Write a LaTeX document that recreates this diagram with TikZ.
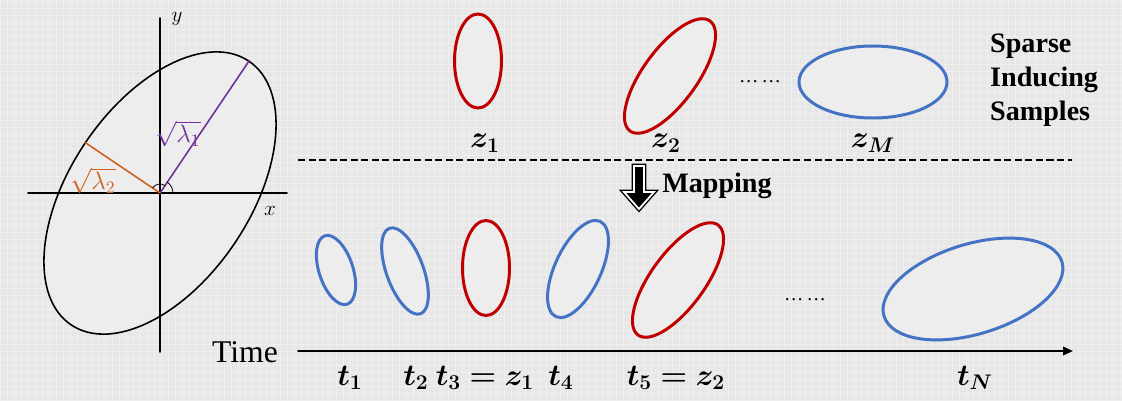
\documentclass[tikz,border=0pt]{standalone}
\usepackage{amsmath,amssymb,bm}
\usepackage{fontspec}
\setmainfont{Liberation Serif}
\usetikzlibrary{arrows.meta,shapes.geometric,calc}
\definecolor{bgcol}{RGB}{231,231,231}
\definecolor{gridcol}{RGB}{239,239,239}
\definecolor{blobfill}{RGB}{237,237,237}
\definecolor{zred}{RGB}{192,0,0}
\definecolor{zblue}{RGB}{68,114,196}
\definecolor{lampurple}{RGB}{112,48,160}
\definecolor{lamorange}{RGB}{204,96,28}

\begin{document}
\begin{tikzpicture}[x=0.02cm,y=0.02cm,>={Triangle[length=2mm,width=1.7mm]},line cap=round,
  wh/.style 2 args={minimum width=#1*0.02cm,minimum height=#2*0.02cm},
  blob/.style={ellipse,draw,fill=blobfill,line width=1.7pt,inner sep=0pt},
  redblob/.style={blob,draw=zred},
  blueblob/.style={blob,draw=zblue},
  zlab/.style={font=\fontsize{17}{19}\selectfont},
  axlab/.style={font=\fontsize{12}{14}\selectfont},
  lamlab/.style={font=\fontsize{14}{16}\selectfont},
  dotlab/.style={font=\fontsize{11}{13}\selectfont}]
\useasboundingbox (0,0) rectangle (1122,400);
\fill[bgcol] (0,0) rectangle (1122,400);
\draw[gridcol,line width=0.4pt,step=7] (0,0) grid (1122,400);
\node[ellipse,draw,fill=blobfill,line width=0.9pt,inner sep=0pt,wh={318}{180},rotate=56] (cov) at (160,207) {};
\coordinate (xl) at (28,207);
\coordinate (xr) at (287,207);
\coordinate (yb) at (160,48);
\coordinate (yt) at (160,382);
\draw[line width=0.9pt] (xl) -- (xr);
\draw[line width=0.9pt] (yb) -- (yt);
\node[axlab] (xlab) at (270,189) {$x$};
\node[axlab] (ylab) at (177,381) {$y$};
\draw[lampurple,line width=0.9pt] (cov.center) -- (cov.east);
\draw[lamorange,line width=0.9pt] (cov.center) -- (cov.north);
\draw[line width=0.45pt] ($(cov.center)+(13,0)$) arc[start angle=0,end angle=56,radius=13];
\draw[line width=0.45pt] ($(cov.center)+(56:9)$) arc[start angle=56,end angle=146,radius=9];
\node[lamlab,lampurple] (lam1) at (178,266) {$\sqrt{\lambda_1}$};
\node[lamlab,lamorange] (lam2) at (93,219) {$\sqrt{\lambda_2}$};
\node[redblob,wh={47}{94}] (z1) at (478,339) {};
\node[redblob,wh={136}{54},rotate=54] (z2) at (670,324) {};
\node[dotlab] (dotsz) at (760,318) {\dots\,\dots};
\node[blueblob,wh={148}{72}] (zM) at (873,318) {};
\node[zlab] (z1lab) at (485,257) {$\bm{z}_{\bm{1}}$};
\node[zlab] (z2lab) at (666,257) {$\bm{z}_{\bm{2}}$};
\node[zlab] (zMlab) at (873,257) {$\bm{z}_{\bm{M}}$};
\node[anchor=west,align=left,font=\bfseries\fontsize{16}{19.5}\selectfont] (sis) at (984,320) {Sparse\\Inducing\\Samples};
\coordinate (dl) at (298,240);
\coordinate (dr) at (1072,240);
\draw[line width=1.1pt,dash pattern=on 4pt off 2pt,line cap=butt] (dl) -- (dr);
\draw[line width=2.6pt,line join=miter,line cap=butt] (634,234) -- (644,234) -- (644,208) -- (654,208) -- (639,191) -- (624,208) -- (634,208) -- cycle;
\draw[white,fill=black,line width=1pt,line join=miter,line cap=butt] (634,234) -- (644,234) -- (644,208) -- (654,208) -- (639,191) -- (624,208) -- (634,208) -- cycle;
\node[font=\bfseries\fontsize{16}{18}\selectfont] (map) at (717,214) {Mapping};
\node[blueblob,wh={72}{34},rotate=108] (t1) at (336,130) {};
\node[blueblob,wh={91}{37},rotate=110] (t2) at (405,129) {};
\node[redblob,wh={47}{95}] (t3) at (486,132) {};
\node[blueblob,wh={105}{46},rotate=65] (t4) at (578,131) {};
\node[redblob,wh={136}{54},rotate=54] (t5) at (678,120) {};
\node[dotlab] (dotst) at (805,100) {\dots\,\dots};
\node[blueblob,wh={186}{90},rotate=17] (tN) at (973,111) {};
\coordinate (ta) at (298,49);
\coordinate (tb) at (1073,49);
\draw[->,line width=1.1pt] (ta) -- (tb);
\node[font=\fontsize{18}{20}\selectfont] (time) at (245,48) {Time};
\node[zlab] (t1lab) at (350,22) {$\bm{t}_{\bm{1}}$};
\node[zlab] (t2lab) at (416,22) {$\bm{t}_{\bm{2}}$};
\node[zlab] (t3lab) at (485,22) {$\bm{t}_{\bm{3}}\bm{=}\bm{z}_{\bm{1}}$};
\node[zlab] (t4lab) at (561,22) {$\bm{t}_{\bm{4}}$};
\node[zlab] (t5lab) at (676,22) {$\bm{t}_{\bm{5}}\bm{=}\bm{z}_{\bm{2}}$};
\node[zlab] (tNlab) at (975,22) {$\bm{t}_{\bm{N}}$};
\end{tikzpicture}
\end{document}
